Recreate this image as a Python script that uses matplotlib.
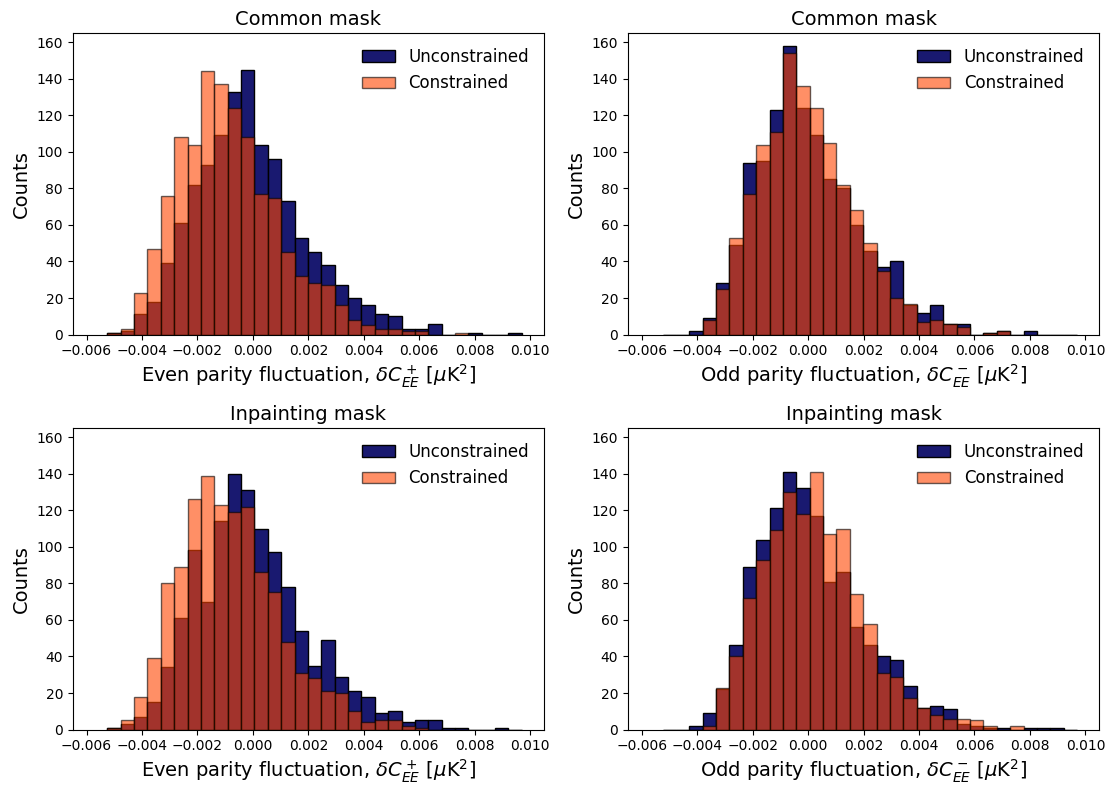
import matplotlib

matplotlib.use("Agg")
import matplotlib.pyplot as plt
import numpy as np

# shared histogram binning (31 bins)
bin_lo = -0.00525
bin_hi = 0.00970
n_bins = 31

# counts per bin
even_common_unc = [1, 2, 11, 18, 39, 61, 82, 93, 109, 133, 145, 104, 96, 73, 53, 45,
                   38, 27, 20, 16, 11, 10, 3, 3, 6, 0, 0, 1, 0, 0, 1]
even_common_con = [1, 3, 23, 47, 76, 108, 104, 144, 137, 124, 108, 77, 75, 45, 32, 28,
                   27, 16, 8, 5, 3, 3, 2, 2, 0, 0, 1, 0, 0, 0, 0]
odd_common_unc = [0, 0, 2, 9, 28, 49, 94, 95, 123, 158, 124, 109, 85, 80, 60, 46,
                  37, 40, 16, 12, 16, 6, 6, 0, 1, 2, 0, 2, 0, 0, 0]
odd_common_con = [0, 0, 0, 8, 25, 53, 77, 104, 111, 154, 136, 124, 105, 82, 68, 50,
                  35, 20, 17, 7, 8, 6, 4, 0, 1, 2, 0, 0, 0, 0, 0]
even_inpaint_unc = [1, 3, 7, 15, 34, 61, 98, 70, 114, 140, 131, 110, 97, 78, 54, 35,
                    49, 29, 21, 18, 9, 10, 4, 5, 5, 1, 1, 0, 0, 1, 0]
even_inpaint_con = [1, 5, 18, 39, 80, 89, 126, 139, 123, 119, 122, 86, 75, 48, 31, 28,
                    21, 20, 10, 4, 5, 5, 2, 1, 0, 0, 0, 0, 0, 0, 0]
odd_inpaint_unc = [0, 0, 2, 9, 22, 46, 89, 104, 121, 141, 132, 117, 81, 86, 56, 46,
                   40, 38, 24, 12, 13, 11, 3, 2, 1, 1, 0, 1, 1, 1, 0]
odd_inpaint_con = [0, 0, 0, 2, 23, 40, 72, 93, 109, 130, 118, 141, 107, 110, 74, 58,
                   31, 29, 17, 12, 8, 6, 6, 5, 2, 0, 2, 0, 0, 0, 0]

panel_titles = ["Common mask", "Common mask", "Inpainting mask", "Inpainting mask"]
even_label = r"Even parity fluctuation, $\delta C^+_{EE}$ [$\mu$K$^2$]"
odd_label = r"Odd parity fluctuation, $\delta C^-_{EE}$ [$\mu$K$^2$]"

panels = [
    (even_common_unc, even_common_con, panel_titles[0], even_label),
    (odd_common_unc, odd_common_con, panel_titles[1], odd_label),
    (even_inpaint_unc, even_inpaint_con, panel_titles[2], even_label),
    (odd_inpaint_unc, odd_inpaint_con, panel_titles[3], odd_label),
]

edges = np.linspace(bin_lo, bin_hi, n_bins + 1)
centers = 0.5 * (edges[:-1] + edges[1:])

fig, axes = plt.subplots(2, 2, figsize=(11.07, 7.87), dpi=100)
fig.subplots_adjust(left=0.0657, right=0.993, top=0.958, bottom=0.073,
                    wspace=0.178, hspace=0.31)

for ax, (unc, con, title, xlabel) in zip(axes.flat, panels):
    ax.hist(centers, bins=edges, weights=unc, color="midnightblue",
            edgecolor="k", label="Unconstrained")
    ax.hist(centers, bins=edges, weights=con, color="orangered", alpha=0.6,
            edgecolor="k", label="Constrained")
    ax.set_xlim(-0.0065, 0.0105)
    ax.set_ylim(0, 165)
    ax.set_xticks(np.arange(-0.006, 0.0101, 0.002))
    ax.set_yticks(np.arange(0, 161, 20))
    ax.tick_params(labelsize=10)
    ax.set_title(title, fontsize=14)
    ax.set_xlabel(xlabel, fontsize=14, labelpad=3)
    ax.set_ylabel("Counts", fontsize=14)
    ax.legend(frameon=False, fontsize=12, loc="upper right")

fig.savefig("out.png")
plt.close(fig)
